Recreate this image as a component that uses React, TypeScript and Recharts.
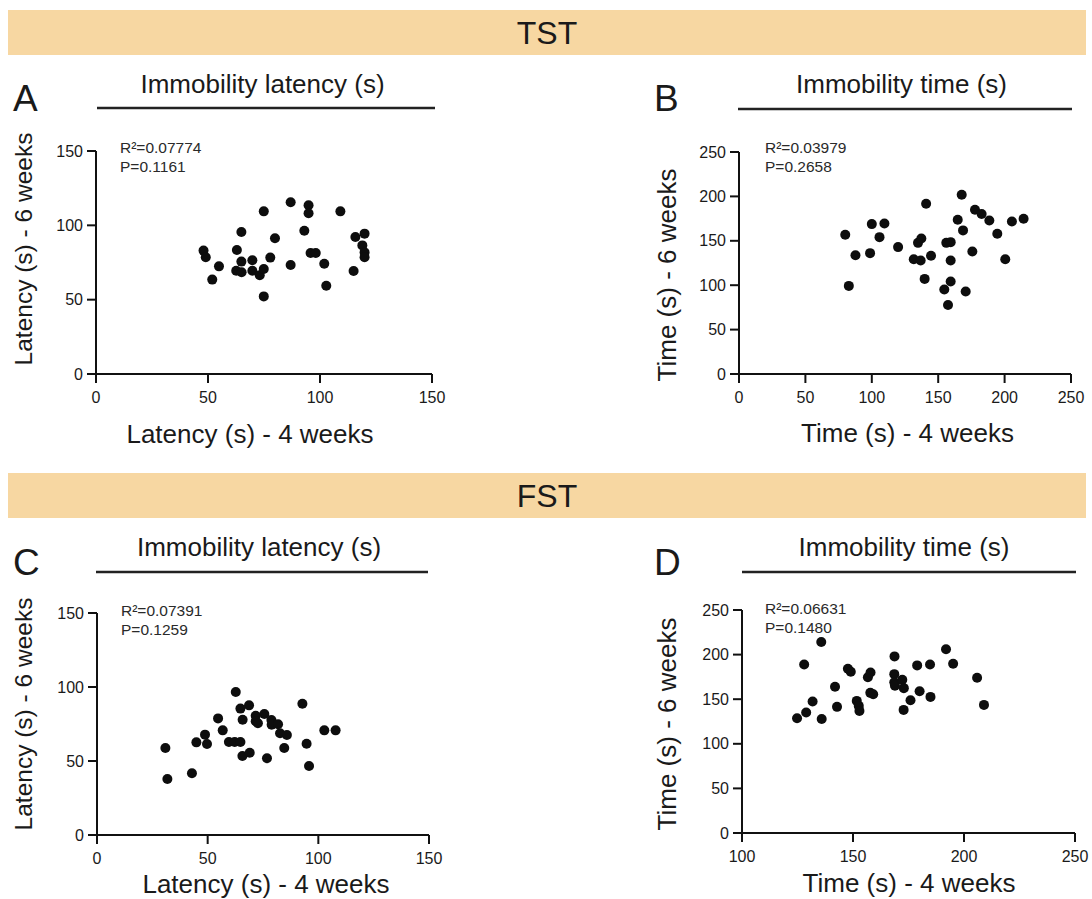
import React from 'react';
import { ScatterChart, Scatter, XAxis, YAxis } from 'recharts';

const FONT = '"Liberation Sans", Arial, Helvetica, sans-serif';

// Panel A: TST immobility latency (s)
const tstLatency4w = [48, 49, 54.9, 51.9, 64.9, 62.9, 64.9, 62.6, 65, 69.8, 69.8, 73.1, 74.9, 74.9, 74.9, 77.8, 79.9, 86.9, 86.9, 93, 94.9, 94.9, 95.8, 98.1, 101.9, 102.8, 109.1, 115.8, 119.9, 118.9, 119.9, 119.9, 115];
const tstLatency6w = [83, 78.5, 72.4, 63.5, 95.5, 83.4, 75.6, 69.5, 68.4, 76.5, 69.5, 66.4, 70.6, 109.4, 52.2, 78.3, 91.3, 115.5, 73.3, 96.4, 113.5, 108.1, 81.4, 81.4, 74.2, 59.4, 109.4, 92.2, 94.4, 86.5, 81.8, 78.5, 69.3];

// Panel B: TST immobility time (s)
const tstTime4w = [80, 82.7, 87.7, 98.7, 100, 105.8, 109.5, 119.8, 131.6, 134.8, 137.3, 136.8, 140.9, 139.8, 144.6, 154.6, 156.1, 159.4, 159.4, 159.4, 157.4, 164.7, 167.7, 168.7, 170.7, 175.7, 177.7, 182.7, 188.5, 194.5, 200.5, 205.5, 214.3];
const tstTime6w = [156.8, 99.2, 133.8, 136.1, 168.8, 154.1, 169.5, 142.9, 129.3, 147.7, 152.6, 127.8, 191.7, 107.1, 133.1, 95.1, 147.7, 148.5, 127.8, 104.1, 77.8, 173.7, 201.9, 161.7, 92.9, 138, 185, 180.1, 172.9, 157.9, 129.3, 171.8, 174.8];

// Panel C: FST immobility latency (s)
const fstLatency4w = [30.9, 31.8, 42.9, 44.9, 48.8, 49.7, 54.7, 56.8, 59.6, 62.2, 64.8, 62.7, 64.8, 68.7, 65.8, 65.7, 69, 71.7, 71.7, 72.7, 75.6, 76.8, 78.8, 78.9, 81.8, 82.7, 85.8, 84.6, 92.8, 94.7, 95.8, 102.7, 107.8];
const fstLatency6w = [58.8, 37.8, 41.7, 62.6, 67.8, 61.5, 78.8, 70.7, 62.8, 62.8, 62.8, 96.6, 85.4, 87.6, 77.9, 53.4, 55.6, 80.6, 76.8, 75.5, 81.8, 51.8, 77.7, 74.5, 74.8, 68.7, 67.6, 58.8, 88.7, 61.7, 46.6, 70.7, 70.7];

// Panel D: FST immobility time (s)
const fstTime4w = [124.8, 128.9, 128, 131.8, 135.7, 135.9, 141.9, 142.8, 147.7, 149, 151.7, 152.6, 152.9, 156.7, 157.9, 157.8, 159.1, 168.7, 168.6, 168.6, 168.9, 172.2, 172.9, 172.8, 175.9, 178.9, 180, 184.7, 184.9, 191.9, 195.1, 205.9, 209];
const fstTime6w = [128.6, 135, 189, 147.4, 214.1, 127.9, 163.9, 141.4, 184.1, 180.7, 148.1, 142.5, 136.9, 174.7, 180, 157.1, 155.6, 198, 178.1, 169.1, 165, 171.7, 162.4, 138, 148.9, 187.9, 159, 189, 152.6, 205.9, 189.7, 174, 143.6];

const latencyTicks = [0, 50, 100, 150];
const timeTicks = [0, 50, 100, 150, 200, 250];
const fstTimeXTicks = [100, 150, 200, 250];

const zip = (xs: number[], ys: number[]) => xs.map((x, i) => ({ x, y: ys[i] }));

const dataA = zip(tstLatency4w, tstLatency6w);
const dataB = zip(tstTime4w, tstTime6w);
const dataC = zip(fstLatency4w, fstLatency6w);
const dataD = zip(fstTime4w, fstTime6w);

const Dot = (props: any) => <circle cx={props.cx} cy={props.cy} r={5} fill="#0d0d0d" />;

type Box = { l: number; t: number; r: number; b: number };

function Panel({ data, xTicks, yTicks, box }: { data: { x: number; y: number }[]; xTicks: number[]; yTicks: number[]; box: Box }) {
  const YW = 70, XH = 40, MT = 15, MR = 25;
  const W = box.r - box.l + YW + MR;
  const H = box.b - box.t + MT + XH;
  const axisStyle = { stroke: '#111', strokeWidth: 2 };
  const tickStyle = { fill: '#1a1a1a', fontSize: 16, fontFamily: FONT };
  return (
    <div style={{ position: 'absolute', left: box.l - YW, top: box.t - MT, width: W, height: H }}>
      <ScatterChart width={W} height={H} margin={{ top: MT, right: MR, bottom: 0, left: 0 }}>
        <XAxis
          type="number"
          dataKey="x"
          domain={[xTicks[0], xTicks[xTicks.length - 1]]}
          ticks={xTicks}
          interval={0}
          height={XH}
          axisLine={axisStyle}
          tickLine={axisStyle}
          tickSize={9}
          tickMargin={8.5}
          tick={tickStyle}
        />
        <YAxis
          type="number"
          dataKey="y"
          domain={[yTicks[0], yTicks[yTicks.length - 1]]}
          ticks={yTicks}
          interval={0}
          width={YW}
          axisLine={axisStyle}
          tickLine={axisStyle}
          tickSize={9}
          tickMargin={4}
          tick={tickStyle}
        />
        <Scatter data={data} shape={Dot} isAnimationActive={false} />
      </ScatterChart>
    </div>
  );
}

const boxA: Box = { l: 96, t: 151, r: 432, b: 374 };
const boxB: Box = { l: 739, t: 152, r: 1071, b: 374 };
const boxC: Box = { l: 97, t: 613, r: 429, b: 835 };
const boxD: Box = { l: 742, t: 610, r: 1075, b: 833 };

const ink = '#1a1a1a';

function Stat({ x, y, r2, p }: { x: number; y: number; r2: string; p: string }) {
  return (
    <g fontSize={15.5} fill="#2a2a2a">
      <text x={x} y={y}>{`R²=${r2}`}</text>
      <text x={x} y={y + 19}>{`P=${p}`}</text>
    </g>
  );
}

export default function App() {
  return (
    <div style={{ position: 'absolute', left: 0, top: 0, width: 1092, height: 899, background: '#fff', overflow: 'hidden' }}>
      <Panel data={dataA} xTicks={latencyTicks} yTicks={latencyTicks} box={boxA} />
      <Panel data={dataB} xTicks={timeTicks} yTicks={timeTicks} box={boxB} />
      <Panel data={dataC} xTicks={latencyTicks} yTicks={latencyTicks} box={boxC} />
      <Panel data={dataD} xTicks={fstTimeXTicks} yTicks={timeTicks} box={boxD} />
      <svg width={1092} height={899} style={{ position: 'absolute', left: 0, top: 0, pointerEvents: 'none' }} fontFamily={FONT}>
        {/* section bands */}
        <rect x={8} y={10} width={1078} height={45} fill="#F7D7A2" />
        <text x={547} y={44} textAnchor="middle" fontSize={32} fill={ink}>TST</text>
        <rect x={8} y={473} width={1078} height={45} fill="#F7D7A2" />
        <text x={547} y={507} textAnchor="middle" fontSize={32} fill={ink}>FST</text>

        {/* panel letters */}
        <text x={13} y={111} fontSize={37} fill={ink}>A</text>
        <text x={654} y={111} fontSize={37} fill={ink}>B</text>
        <text x={13} y={575} fontSize={37} fill={ink}>C</text>
        <text x={654} y={575} fontSize={37} fill={ink}>D</text>

        {/* titles */}
        <text x={262.5} y={93} textAnchor="middle" fontSize={26} fill={ink}>Immobility latency (s)</text>
        <line x1={97} x2={435} y1={108} y2={108} stroke="#222" strokeWidth={2.5} />
        <text x={901.5} y={93} textAnchor="middle" fontSize={26} fill={ink}>Immobility time (s)</text>
        <line x1={738} x2={1072} y1={109} y2={109} stroke="#222" strokeWidth={2.5} />
        <text x={259} y={556} textAnchor="middle" fontSize={26} fill={ink}>Immobility latency (s)</text>
        <line x1={96} x2={428} y1={572} y2={572} stroke="#222" strokeWidth={2.5} />
        <text x={904} y={556} textAnchor="middle" fontSize={26} fill={ink}>Immobility time (s)</text>
        <line x1={742} x2={1076} y1={572} y2={572} stroke="#222" strokeWidth={2.5} />

        {/* stats */}
        <Stat x={120} y={153} r2="0.07774" p="0.1161" />
        <Stat x={765} y={153} r2="0.03979" p="0.2658" />
        <Stat x={121} y={616} r2="0.07391" p="0.1259" />
        <Stat x={765} y={614} r2="0.06631" p="0.1480" />

        {/* x axis titles */}
        <text x={250} y={443} textAnchor="middle" fontSize={26} fill={ink}>Latency (s) - 4 weeks</text>
        <text x={907.5} y={442} textAnchor="middle" fontSize={26} fill={ink}>Time (s) - 4 weeks</text>
        <text x={266} y={893} textAnchor="middle" fontSize={26} fill={ink}>Latency (s) - 4 weeks</text>
        <text x={909} y={892} textAnchor="middle" fontSize={26} fill={ink}>Time (s) - 4 weeks</text>

        {/* y axis titles */}
        <text x={32} y={249} textAnchor="middle" fontSize={24.5} fill={ink} transform="rotate(-90 32 249)">Latency (s) - 6 weeks</text>
        <text x={676} y={275} textAnchor="middle" fontSize={26} fill={ink} transform="rotate(-90 676 275)">Time (s) - 6 weeks</text>
        <text x={32} y={714} textAnchor="middle" fontSize={24.5} fill={ink} transform="rotate(-90 32 714)">Latency (s) - 6 weeks</text>
        <text x={676} y={724} textAnchor="middle" fontSize={26} fill={ink} transform="rotate(-90 676 724)">Time (s) - 6 weeks</text>
      </svg>
    </div>
  );
}
